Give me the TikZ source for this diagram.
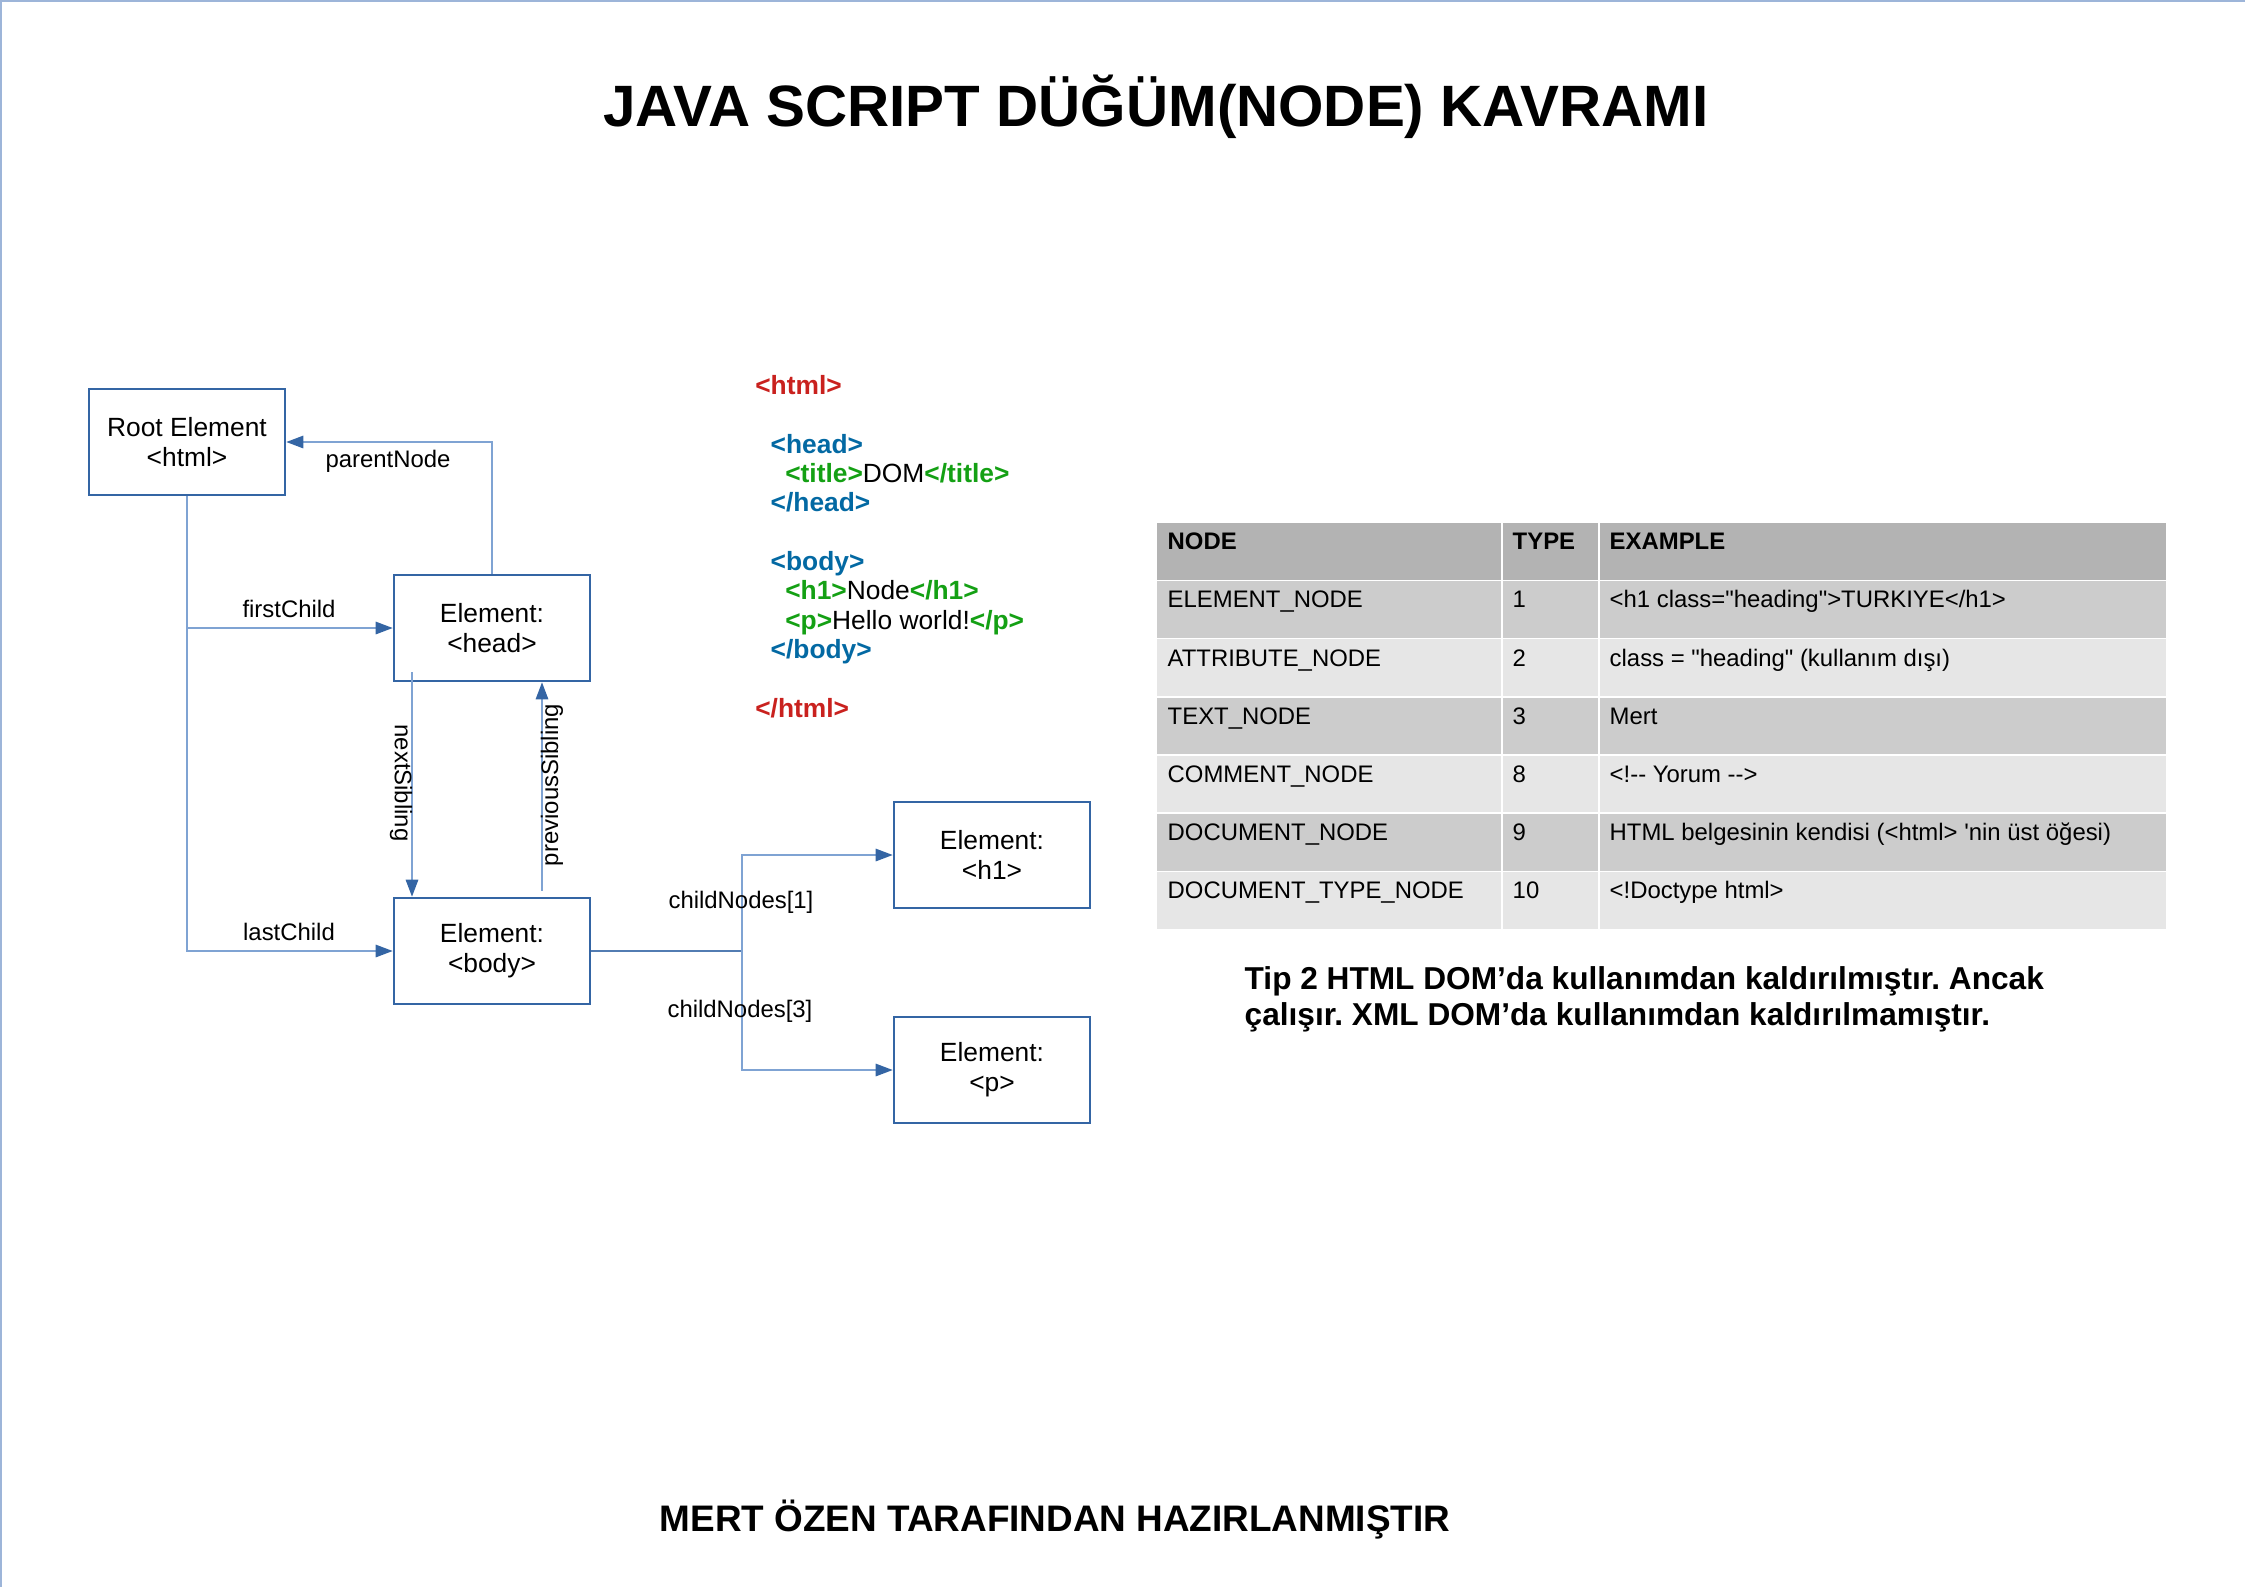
\documentclass[tikz,border=0pt]{standalone}
\usepackage{fontspec}
\setmainfont{Liberation Sans}
\usetikzlibrary{arrows.meta}
\frenchspacing

\definecolor{boxblue}{HTML}{3465A4}
\definecolor{linkblue}{HTML}{7FA3D3}
\definecolor{frameblue}{HTML}{9DB5D9}
\definecolor{tagred}{HTML}{C9211E}
\definecolor{tagblue}{HTML}{0369A3}
\definecolor{taggreen}{HTML}{14A014}
\definecolor{headgray}{HTML}{B3B3B3}
\definecolor{darkrow}{HTML}{CCCCCC}
\definecolor{lightrow}{HTML}{E6E6E6}

\tikzset{
  elem/.style={draw=boxblue, line width=0.75pt, minimum width=1.96cm, minimum height=1.06cm,
    align=center, font=\fontsize{7.5}{8.6}\selectfont},
  link/.style={draw=linkblue, line width=0.4pt, -{Triangle[length=1.7mm,width=1.25mm,color=boxblue]}},
  trunk/.style={draw=boxblue!85, line width=0.45pt},
  lbl/.style={inner sep=0pt, font=\fontsize{6.8}{8}\selectfont},
  codeline/.style={anchor=base west, inner sep=0pt, font=\fontsize{7.5}{9}\selectfont\bfseries},
  cell/.style={anchor=base west, inner sep=0pt, font=\fontsize{6.8}{8}\selectfont},
  sepline/.style={white, line width=0.35pt}
}

\begin{document}
\begin{tikzpicture}
\useasboundingbox (0,0) rectangle (22.45,-15.87);
% page frame (only top and left show)
\draw[frameblue, line width=0.04cm] (0,-15.87) -- (0,0) -- (22.45,0);

% title and footer
\node[anchor=base, inner sep=0pt, font=\fontsize{16.6}{20}\selectfont\bfseries] (title) at (11.56,-1.26) {JAVA SCRIPT DÜĞÜM(NODE) KAVRAMI};
\node[anchor=base, inner sep=0pt, font=\fontsize{10.5}{12}\selectfont\bfseries] (footer) at (10.55,-15.31) {MERT ÖZEN TARAFINDAN HAZIRLANMIŞTIR};

% dom tree
\node[elem] (root) at (1.87,-4.42) {Root Element\\<html>};
\node[elem] (head) at (4.92,-6.28) {Element:\\<head>};
\node[elem] (body) at (4.92,-9.51) {Element:\\<body>};
\node[elem] (h1) at (9.92,-8.55) {Element:\\<h1>};
\node[elem] (p) at (9.92,-10.70) {Element:\\<p>};
\coordinate (split) at (7.42,-9.51);

\draw[link] (root.south) |- (head.west);
\draw[link] (root.south) |- (body.west);
\draw[link] (head.north) |- (root.east);
\draw[link] ([xshift=-0.8cm,yshift=0.1cm]head.south) -- ([xshift=-0.8cm]body.north);
\draw[link] ([xshift=0.5cm,yshift=0.06cm]body.north) -- ([xshift=0.5cm]head.south);
\draw[trunk] (body.east) -- (split);
\draw[link] (split) |- (h1.west);
\draw[link] (split) |- (p.west);

\node[lbl] (lfirst) at (2.89,-6.09) {firstChild};
\node[lbl] (llast) at (2.89,-9.32) {lastChild};
\node[lbl] (lparent) at (3.88,-4.61) {parentNode};
\node[lbl, rotate=-90] (lnext) at (4.01,-7.83) {nextSibling};
\node[lbl, rotate=90] (lprev) at (5.52,-7.85) {previousSibling};
\node[lbl] (lchild1) at (7.41,-9.02) {childNodes[1]};
\node[lbl] (lchild3) at (7.40,-10.11) {childNodes[3]};

% html source
\node[codeline, tagred] (c1) at (7.546,-3.947) {<html>};
\node[codeline, tagblue] (c2) at (7.70,-4.533) {<head>};
\node[codeline] (c3) at (7.846,-4.826) {\textcolor{taggreen}{<title>}\textmd{DOM}\textcolor{taggreen}{</title>}};
\node[codeline, tagblue] (c4) at (7.70,-5.119) {</head>};
\node[codeline, tagblue] (c5) at (7.70,-5.705) {<body>};
\node[codeline] (c6) at (7.846,-5.998) {\textcolor{taggreen}{<h1>}\textmd{Node}\textcolor{taggreen}{</h1>}};
\node[codeline] (c7) at (7.846,-6.291) {\textcolor{taggreen}{<p>}\textmd{Hello world!}\textcolor{taggreen}{</p>}};
\node[codeline, tagblue] (c8) at (7.70,-6.584) {</body>};
\node[codeline, tagred] (c9) at (7.546,-7.170) {</html>};

% node type table
\fill[headgray] (11.57,-5.226) rectangle (21.66,-5.807);
\fill[darkrow] (11.57,-5.807) rectangle (21.66,-6.388);
\fill[lightrow] (11.57,-6.388) rectangle (21.66,-6.969);
\fill[darkrow] (11.57,-6.969) rectangle (21.66,-7.550);
\fill[lightrow] (11.57,-7.550) rectangle (21.66,-8.131);
\fill[darkrow] (11.57,-8.131) rectangle (21.66,-8.712);
\fill[lightrow] (11.57,-8.712) rectangle (21.66,-9.293);
\draw[sepline] (11.57,-5.807) -- (21.66,-5.807);
\draw[sepline] (11.57,-6.388) -- (21.66,-6.388);
\draw[sepline] (11.57,-6.969) -- (21.66,-6.969);
\draw[sepline] (11.57,-7.550) -- (21.66,-7.550);
\draw[sepline] (11.57,-8.131) -- (21.66,-8.131);
\draw[sepline] (11.57,-8.712) -- (21.66,-8.712);
\draw[sepline] (15.02,-5.226) -- (15.02,-9.293);
\draw[sepline] (15.99,-5.226) -- (15.99,-9.293);

\node[cell, font=\fontsize{6.8}{8}\selectfont\bfseries] (hnode) at (11.67,-5.498) {NODE};
\node[cell, font=\fontsize{6.8}{8}\selectfont\bfseries] (htype) at (15.12,-5.498) {TYPE};
\node[cell, font=\fontsize{6.8}{8}\selectfont\bfseries] (hex) at (16.09,-5.498) {EXAMPLE};

\node[cell] (n1) at (11.67,-6.079) {ELEMENT\_NODE};
\node[cell] (t1) at (15.12,-6.079) {1};
\node[cell] (e1) at (16.09,-6.079) {<h1 class=\textquotedbl heading\textquotedbl>TURKIYE</h1>};
\node[cell] (n2) at (11.67,-6.660) {ATTRIBUTE\_NODE};
\node[cell] (t2) at (15.12,-6.660) {2};
\node[cell] (e2) at (16.09,-6.660) {class = \textquotedbl heading\textquotedbl{} (kullanım dışı)};
\node[cell] (n3) at (11.67,-7.241) {TEXT\_NODE};
\node[cell] (t3) at (15.12,-7.241) {3};
\node[cell] (e3) at (16.09,-7.241) {Mert};
\node[cell] (n4) at (11.67,-7.822) {COMMENT\_NODE};
\node[cell] (t4) at (15.12,-7.822) {8};
\node[cell] (e4) at (16.09,-7.822) {<!-{}- Yorum -{}->};
\node[cell] (n5) at (11.67,-8.403) {DOCUMENT\_NODE};
\node[cell] (t5) at (15.12,-8.403) {9};
\node[cell] (e5) at (16.09,-8.403) {HTML belgesinin kendisi (<html> \textquotesingle nin üst öğesi)};
\node[cell] (n6) at (11.67,-8.984) {DOCUMENT\_TYPE\_NODE};
\node[cell] (t6) at (15.12,-8.984) {10};
\node[cell] (e6) at (16.09,-8.984) {<!Doctype html>};

% note under the table
\node[anchor=base west, inner sep=0pt, font=\fontsize{9}{11}\selectfont\bfseries] (note1) at (12.44,-9.89) {Tip 2 HTML DOM’da kullanımdan kaldırılmıştır. Ancak};
\node[anchor=base west, inner sep=0pt, font=\fontsize{9}{11}\selectfont\bfseries] (note2) at (12.44,-10.25) {çalışır. XML DOM’da kullanımdan kaldırılmamıştır.};
\end{tikzpicture}
\end{document}
